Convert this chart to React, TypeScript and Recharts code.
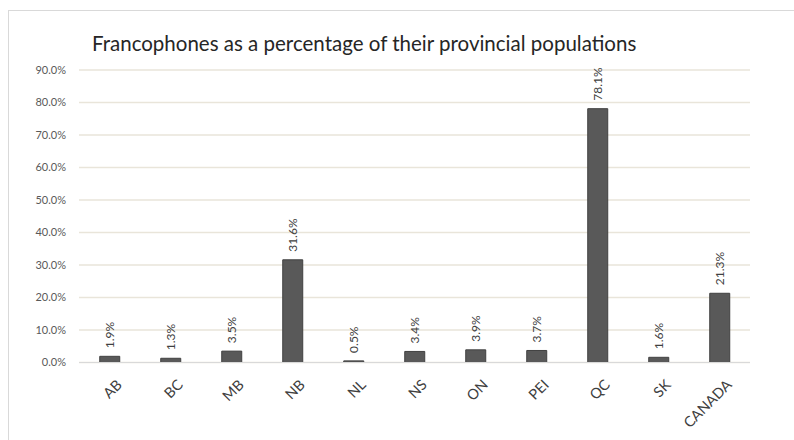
import React from 'react'
import { BarChart, Bar, XAxis, YAxis, CartesianGrid, LabelList } from 'recharts'

const provinces = ['AB', 'BC', 'MB', 'NB', 'NL', 'NS', 'ON', 'PEI', 'QC', 'SK', 'CANADA']
const francophoneShare = [1.9, 1.3, 3.5, 31.6, 0.5, 3.4, 3.9, 3.7, 78.1, 1.6, 21.3]
const yTicks = [0, 10, 20, 30, 40, 50, 60, 70, 80, 90]

const data = provinces.map((name, i) => ({ name, share: francophoneShare[i] }))

const FONT = 'Lato, "Open Sans", sans-serif'

const pct = (v: number) => `${v.toFixed(1)}%`

function XTick(props: any) {
    const { x, y, payload } = props
    return (
        <text
            x={x + 6}
            y={y + 8}
            transform={`rotate(-45, ${x + 6}, ${y + 8})`}
            textAnchor="end"
            dy="0.71em"
            fontSize={14.5}
            fill="#404040"
            fontFamily={FONT}
        >
            {payload.value}
        </text>
    )
}

function BarValue(props: any) {
    const { x, y, width, value } = props
    const cx = x + width / 2
    const ty = y - 8
    return (
        <text
            x={cx}
            y={ty}
            transform={`rotate(-90, ${cx}, ${ty})`}
            textAnchor="start"
            dominantBaseline="central"
            fontSize={12}
            fill="#404040"
            fontFamily={FONT}
        >
            {pct(value)}
        </text>
    )
}

export default function App() {
    return (
        <div style={{ position: 'absolute', left: 0, top: 0, width: 794, height: 440, background: '#fff', overflow: 'hidden' }}>
            <div style={{ position: 'absolute', left: 8, top: 10, width: 800, height: 440, border: '1px solid #d9d9d9' }} />
            <div
                style={{
                    position: 'absolute',
                    left: 92,
                    top: 31,
                    fontFamily: FONT,
                    fontSize: 20.5,
                    color: '#262626',
                    whiteSpace: 'nowrap',
                }}
            >
                Francophones as a percentage of their provincial populations
            </div>
            <div style={{ position: 'absolute', left: 0, top: 0 }}>
                <BarChart width={794} height={440} data={data} margin={{ top: 70, right: 44, bottom: 17.5, left: 0 }} barCategoryGap="34%">
                    <CartesianGrid vertical={false} stroke="#e9e5da" strokeWidth={1.5} />
                    <XAxis
                        dataKey="name"
                        height={60}
                        interval={0}
                        tickLine={false}
                        axisLine={{ stroke: '#d9d9d9' }}
                        tick={<XTick />}
                    />
                    <YAxis
                        width={79}
                        domain={[0, 90]}
                        ticks={yTicks}
                        tickFormatter={pct}
                        axisLine={false}
                        tickLine={false}
                        tickSize={0}
                        tickMargin={13}
                        tick={{ fontSize: 11, fill: '#595959', fontFamily: FONT }}
                    />
                    <Bar dataKey="share" fill="#595959" stroke="#404040" strokeWidth={1} isAnimationActive={false}>
                        <LabelList dataKey="share" content={<BarValue />} />
                    </Bar>
                </BarChart>
            </div>
        </div>
    )
}
